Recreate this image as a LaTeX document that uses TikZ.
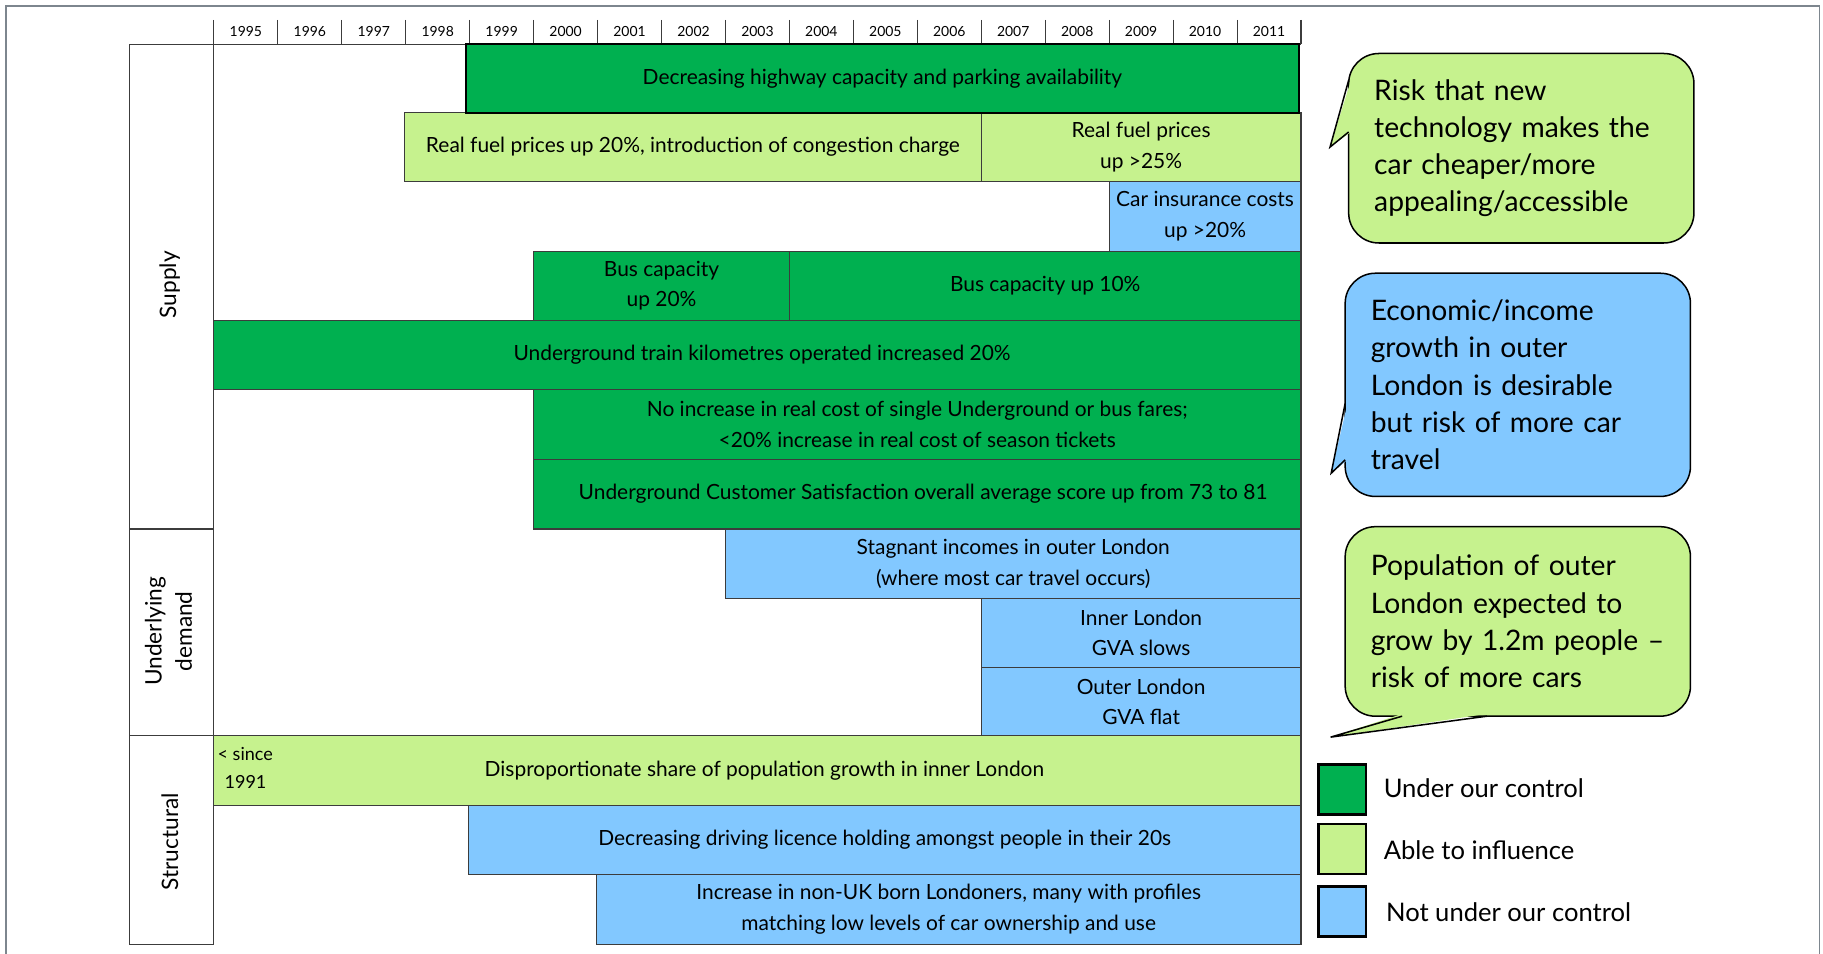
\documentclass[tikz,border=0pt]{standalone}
\usepackage{fontspec}
\setmainfont{Lato}
\definecolor{dgreen}{HTML}{00B050}
\definecolor{lgreen}{HTML}{C6F28E}
\definecolor{lblue}{HTML}{82C8FF}
\definecolor{edge}{HTML}{3C3C3C}
\definecolor{framec}{HTML}{7D868E}
\tikzset{
 barbox/.style={draw=edge, line width=0.9pt, inner sep=0pt, align=center, font=\fontsize{18}{26}\selectfont},
 yearlab/.style={font=\fontsize{12}{14}\selectfont, inner sep=0pt},
 seclab/.style={rotate=90, font=\fontsize{19.5}{26}\selectfont, align=center, inner sep=0pt},
 callbox/.style={draw=black, line width=1.3pt, rounded corners=26pt, inner xsep=22pt, inner ysep=0pt, align=left, text width=253pt, minimum width=297pt, font=\fontsize{24.3}{32}\selectfont},
 tailline/.style={draw=black, line width=1.3pt, line join=miter},
 legbox/.style={draw=black, line width=2pt, minimum width=41pt, minimum height=43pt, inner sep=0pt},
 legtext/.style={anchor=west, inner sep=0pt, font=\fontsize{22}{24}\selectfont},
 gridline/.style={draw=edge, line width=0.9pt},
}
\newcommand\gbar[7]{\node[barbox, fill=#6, minimum width={(#4)-(#2)}, minimum height={(#5)-(#3)}] (#1) at ({((#2)+(#4))/2},{((#3)+(#5))/2}) {#7};}
\begin{document}
\begin{tikzpicture}[x=1pt,y=-1pt]
\useasboundingbox (0,0) rectangle (1568,820);
% outer frame
\draw[framec, line width=1.5pt] (5,822) -- (5,5) -- (1565,5) -- (1565,822);
% year header
\foreach \yr [count=\i from 0] in {1995,...,2011} {
  \node[yearlab] (y\yr) at ({211.5+55*\i},27) {\yr};
}
\foreach \i in {0,...,17} {
  \draw[gridline] ({184+55*\i},17) -- ({184+55*\i},38);
}
% chart frame and section column
\draw[gridline] (111,38) -- (1119,38);
\draw[gridline] (111,38) -- (111,812);
\draw[gridline] (184,38) -- (184,812);
\draw[gridline] (111,455) -- (184,455);
\draw[gridline] (111,633) -- (184,633);
\draw[gridline] (111,812) -- (184,812);
\node[seclab] (supply) at (146,245) {Supply};
\node[seclab] (demand) at (145,543) {Underlying\\demand};
\node[seclab] (struct) at (146,724) {Structural};
% bars
\gbar{fuelA}{348}{97}{844}{156}{lgreen}{Real fuel prices up 20\%, introduction of congestion charge}
\gbar{fuelB}{844}{97}{1119}{156}{lgreen}{Real fuel prices\\up >25\%}
\gbar{ins}{954}{156}{1119}{216}{lblue}{Car insurance costs\\up >20\%}
\gbar{busA}{459}{216}{679}{276}{dgreen}{Bus capacity\\up 20\%}
\gbar{busB}{679}{216}{1119}{276}{dgreen}{Bus capacity up 10\%}
\gbar{tube}{184}{276}{1119}{335}{dgreen}{\hspace{8pt}Underground train kilometres operated increased 20\%}
\gbar{fares}{459}{335}{1119}{395}{dgreen}{No increase in real cost of single Underground or bus fares;\\<20\% increase in real cost of season tickets}
\gbar{sat}{459}{395}{1119}{455}{dgreen}{\hspace{10pt}Underground Customer Satisfaction overall average score up from 73 to 81}
\gbar{stag}{624}{455}{1119}{515}{lblue}{Stagnant incomes in outer London\\(where most car travel occurs)}
\gbar{inner}{844}{515}{1119}{574}{lblue}{Inner London\\GVA slows}
\gbar{outer}{844}{574}{1119}{633}{lblue}{Outer London\\GVA flat}
\gbar{disp}{184}{633}{1119}{693}{lgreen}{\hspace{12pt}Disproportionate share of population growth in inner London}
\gbar{lic}{403}{693}{1119}{752}{lblue}{Decreasing driving licence holding amongst people in their 20s}
\gbar{nonuk}{513}{752}{1119}{812}{lblue}{Increase in non-UK born Londoners, many with profiles\\matching low levels of car ownership and use}
\node[barbox, fill=dgreen, draw=black, line width=1.8pt, minimum width=716pt, minimum height=59pt] (hwy) at (759,67.5) {Decreasing highway capacity and parking availability};
\node[anchor=north west, inner sep=0pt, align=left, font=\fontsize{15.5}{24}\selectfont] (since) at (187,643) {< since\\\hspace{6pt}1991};
% callouts
\node[callbox, fill=lgreen, minimum height=163pt] (c1) at (1308.5,127.5) {Risk that new\\technology makes the\\car cheaper/more\\appealing/accessible};
\fill[lgreen] (1162,69) -- (1144,126.5) -- (1162,113.5) -- cycle;
\draw[tailline] (1160,69) -- (1144,126.5) -- (1160,113.5);
\node[callbox, fill=lblue, minimum height=192pt] (c2) at (1305.5,331) {Economic/income\\growth in outer\\London is desirable\\but risk of more car\\travel};
\fill[lblue] (1159,347) -- (1145,407) -- (1159,395.5) -- cycle;
\draw[tailline] (1157,347) -- (1145,407) -- (1157,395.5);
\node[callbox, fill=lgreen, minimum height=163pt] (c3) at (1305.5,534.5) {Population of outer\\London expected to\\grow by 1.2m people --\\risk of more cars};
\fill[lgreen] (1206,614) -- (1144.5,634) -- (1279,614) -- cycle;
\draw[tailline] (1206,616) -- (1144.5,634) -- (1279,616);
% legend
\node[legbox, fill=dgreen] (l1) at (1154.5,679) {};
\node[legbox, fill=lgreen] (l2) at (1154.5,730.5) {};
\node[legbox, fill=lblue] (l3) at (1154.5,784) {};
\node[legtext] (t1) at (1190,678) {Under our control};
\node[legtext] (t2) at (1190,731) {Able to influence};
\node[legtext] (t3) at (1192,785) {Not under our control};
\end{tikzpicture}
\end{document}
